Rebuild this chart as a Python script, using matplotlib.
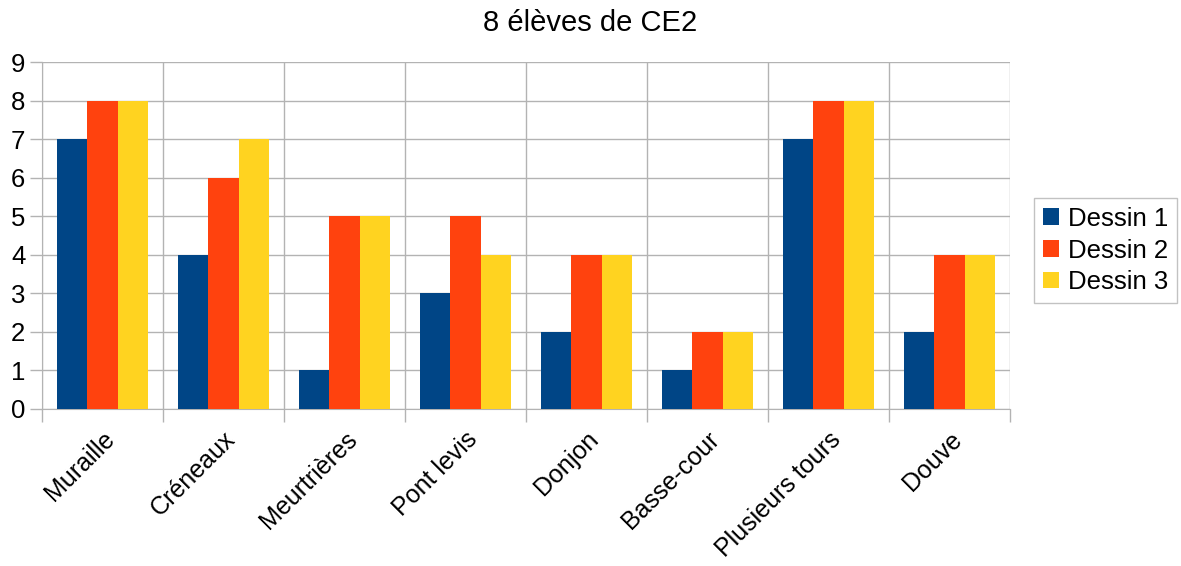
import numpy as np
from matplotlib import pyplot as plt
from matplotlib.transforms import ScaledTranslation

categories = ["Muraille", "Créneaux", "Meurtrières", "Pont levis", "Donjon",
              "Basse-cour", "Plusieurs tours", "Douve"]
dessin1 = [7, 4, 1, 3, 2, 1, 7, 2]
dessin2 = [8, 6, 5, 5, 4, 2, 8, 4]
dessin3 = [8, 7, 5, 4, 4, 2, 8, 4]
series_names = ["Dessin 1", "Dessin 2", "Dessin 3"]
colors = ["#004586", "#ff420e", "#ffd320"]

plt.rcParams["font.family"] = ["Liberation Sans", "DejaVu Sans"]

fig = plt.figure(figsize=(11.81, 5.66), dpi=100)
ax = fig.add_axes([42 / 1181, 1 - 409 / 566, 968 / 1181, 347 / 566])

x = np.arange(len(categories)) + 0.5
w = 0.252
for k, (vals, name, c) in enumerate(zip([dessin1, dessin2, dessin3], series_names, colors)):
    ax.bar(x + (k - 1) * w, vals, width=w, color=c, label=name, zorder=3)

ax.set_xlim(0, len(categories))
ax.set_ylim(0, 9)
ax.set_yticks(range(10))
ax.set_xticks(range(len(categories) + 1), minor=False)
ax.set_xticklabels([])
ax.set_xticks(x, minor=True)
ax.set_xticklabels(categories, minor=True, rotation=45, ha="right",
                   rotation_mode="anchor", fontsize=18)
shift = ScaledTranslation(-4 / 100, 0, fig.dpi_scale_trans)
for lbl in ax.get_xticklabels(minor=True):
    lbl.set_transform(lbl.get_transform() + shift)
ax.tick_params(axis="x", which="minor", length=0, pad=13)
ax.tick_params(axis="x", which="major", length=9, color="#b3b3b3", width=1)
ax.tick_params(axis="y", length=9, color="#b3b3b3", width=1, labelsize=18.5, pad=3)

ax.grid(True, which="major", color="#b3b3b3", linewidth=1, zorder=0)
for s in ax.spines.values():
    s.set_visible(False)
ax.spines["bottom"].set_visible(True)
ax.spines["bottom"].set_color("#b3b3b3")
ax.spines["left"].set_visible(True)
ax.spines["left"].set_color("#b3b3b3")

fig.suptitle("8 élèves de CE2", y=1 - 23 / 566, va="center", fontsize=21)

leg = fig.legend(loc="center left", bbox_to_anchor=(1034 / 1181, 1 - 250.5 / 566),
                 fontsize=18.5, frameon=True, fancybox=False, edgecolor="#b3b3b3",
                 handlelength=0.62, handleheight=0.62, handletextpad=0.35,
                 borderpad=0.35, labelspacing=0.3, borderaxespad=0)
leg.get_frame().set_linewidth(1)

fig.savefig("out.png", dpi=100)
